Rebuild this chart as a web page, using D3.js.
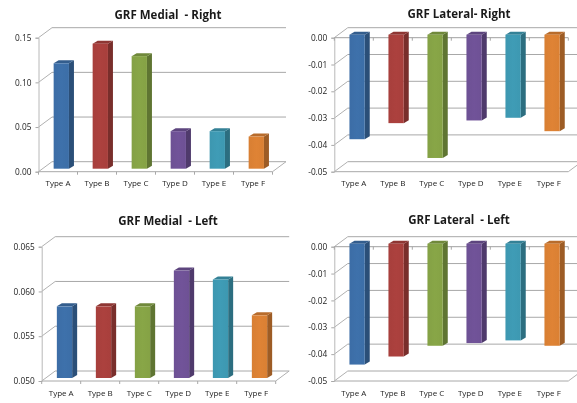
<!DOCTYPE html>
<html>
<head>
<meta charset="utf-8">
<script src="https://cdn.jsdelivr.net/npm/d3@7/dist/d3.min.js"></script>
<style>
    html, body { margin: 0; padding: 0; background: #fff; overflow: hidden; }
    svg { display: block; filter: blur(0.6px); }
    text { font-family: "Open Sans", "Noto Sans", sans-serif; fill: #333; }
</style>
</head>
<body>
<div id="chart"></div>
<script>
var categories = ["Type A", "Type B", "Type C", "Type D", "Type E", "Type F"];
var titles = ["GRF Medial  - Right", "GRF Lateral- Right", "GRF Medial  - Left", "GRF Lateral  - Left"];

var medialRight = [0.118, 0.14, 0.126, 0.042, 0.042, 0.036];
var lateralRight = [-0.039, -0.033, -0.046, -0.032, -0.031, -0.036];
var medialLeft = [0.058, 0.058, 0.058, 0.062, 0.061, 0.057];
var lateralLeft = [-0.045, -0.042, -0.038, -0.037, -0.036, -0.038];

var medialRightTicks = [0, 0.05, 0.1, 0.15];
var lateralTicks = [0, -0.01, -0.02, -0.03, -0.04, -0.05];
var medialLeftTicks = [0.05, 0.055, 0.06, 0.065];

var colors = ["#3d6fa9", "#aa403d", "#86a446", "#6f5297", "#3e9ab3", "#dc8134"];

var width = 577, height = 403;
var depth = {x: 13.5, y: -10};
var barDepth = {x: 5, y: -3};
var barWidth = 15.3;

var svg = d3.select('#chart').append('svg')
    .attr('width', width)
    .attr('height', height);

var defs = svg.append('defs');
colors.forEach(function (c, i) {
    var grad = defs.append('linearGradient').attr('id', 'face' + i);
    grad.append('stop').attr('offset', '0%').attr('stop-color', d3.color(c).darker(0.05));
    grad.append('stop').attr('offset', '50%').attr('stop-color', d3.color(c).brighter(0.04));
    grad.append('stop').attr('offset', '100%').attr('stop-color', d3.color(c).darker(0.03));
});

function drawPanel(opts) {
    var y = d3.scaleLinear().domain(opts.domain).range([opts.bottom, opts.top]);
    var x = d3.scaleBand().domain(categories).range([opts.left, opts.left + 234]);
    var g = svg.append('g');
    var baseValue = opts.negative ? 0 : opts.domain[0];
    var floorValue = opts.domain[0];

    // back wall grid + the slanted side wall lines
    g.selectAll('line.grid').data(opts.ticks).enter().append('line')
        .attr('class', 'grid')
        .attr('x1', opts.left + depth.x)
        .attr('x2', opts.left + 234 + depth.x)
        .attr('y1', function (d) { return y(d) + depth.y; })
        .attr('y2', function (d) { return y(d) + depth.y; })
        .attr('stroke', '#a8a8a8');
    g.selectAll('line.side').data(opts.ticks).enter().append('line')
        .attr('class', 'side')
        .attr('x1', opts.left)
        .attr('x2', opts.left + depth.x)
        .attr('y1', function (d) { return y(d); })
        .attr('y2', function (d) { return y(d) + depth.y; })
        .attr('stroke', '#b0b0b0');

    // floor front edge and right edge
    g.append('line')
        .attr('x1', opts.left).attr('x2', opts.left + 234)
        .attr('y1', y(floorValue)).attr('y2', y(floorValue))
        .attr('stroke', '#a8a8a8');
    g.append('line')
        .attr('x1', opts.left + 234).attr('x2', opts.left + 234 + depth.x)
        .attr('y1', y(floorValue)).attr('y2', y(floorValue) + depth.y)
        .attr('stroke', '#b0b0b0');

    var yAxis = d3.axisLeft(y)
        .tickValues(opts.ticks)
        .tickFormat(d3.format(opts.format))
        .tickSize(3)
        .tickPadding(4);
    var yG = g.append('g').attr('transform', 'translate(' + opts.left + ',0)').call(yAxis);
    yG.select('.domain').attr('stroke', '#b8b8b8');
    yG.selectAll('.tick line').attr('stroke', '#a8a8a8');
    yG.selectAll('text').style('font-size', '8.3px').style('fill', '#222')
        .text(function (d) { return d3.format(opts.format)(d).replace('\u2212', '-'); });

    var xAxis = d3.axisBottom(x).tickSize(0).tickPadding(0);
    var xG = g.append('g').attr('transform', 'translate(0,' + y(opts.domain[0]) + ')').call(xAxis);
    xG.select('.domain').remove();
    xG.selectAll('text').style('font-size', '8px').style('fill', '#222').attr('y', 9);

    // category separators on the zero axis
    g.selectAll('line.xtick').data(d3.range(7)).enter().append('line')
        .attr('class', 'xtick')
        .attr('x1', function (d) { return opts.left + d * x.bandwidth(); })
        .attr('x2', function (d) { return opts.left + d * x.bandwidth(); })
        .attr('y1', y(baseValue))
        .attr('y2', y(baseValue) + 3)
        .attr('stroke', '#a8a8a8');

    if (opts.negative) {
        g.append('line')
            .attr('x1', opts.left).attr('x2', opts.left + 234)
            .attr('y1', y(0)).attr('y2', y(0))
            .attr('stroke', '#a0a0a0');
    }

    var bars = g.selectAll('g.bar').data(opts.values).enter().append('g').attr('class', 'bar');

    bars.each(function (v, i) {
        var bar = d3.select(this);
        var c = colors[i];
        var x0 = x(categories[i]) + (x.bandwidth() - barWidth) / 2 + 3.3;
        var x1 = x0 + barWidth;
        var yTop = Math.min(y(v), y(baseValue)) + barDepth.y;
        var yBot = Math.max(y(v), y(baseValue)) + barDepth.y;
        // right side
        bar.append('path')
            .attr('d', 'M' + x1 + ',' + yTop + 'L' + (x1 + barDepth.x) + ',' + (yTop + barDepth.y)
                + 'L' + (x1 + barDepth.x) + ',' + (yBot + barDepth.y) + 'L' + x1 + ',' + yBot + 'Z')
            .attr('fill', d3.color(c).darker(0.95));
        // top
        bar.append('path')
            .attr('d', 'M' + x0 + ',' + yTop + 'L' + (x0 + barDepth.x) + ',' + (yTop + barDepth.y)
                + 'L' + (x1 + barDepth.x) + ',' + (yTop + barDepth.y) + 'L' + x1 + ',' + yTop + 'Z')
            .attr('fill', d3.color(c).darker(0.5));
        // front
        bar.append('rect')
            .attr('x', x0)
            .attr('y', yTop)
            .attr('width', barWidth)
            .attr('height', yBot - yTop)
            .attr('fill', 'url(#face' + i + ')');
    });

    g.append('text')
        .attr('x', opts.titleX)
        .attr('y', opts.titleY)
        .attr('text-anchor', 'middle')
        .style('font-size', '11.5px')
        .style('font-weight', 'bold')
        .style('white-space', 'pre')
        .style('fill', '#1a1a1a')
        .text(opts.title);
}

drawPanel({title: titles[0], titleX: 168, titleY: 19, values: medialRight, ticks: medialRightTicks,
    domain: [0, 0.15], format: '.2f', left: 38.5, top: 37.7, bottom: 171.7, negative: false});
drawPanel({title: titles[1], titleX: 459, titleY: 18, values: lateralRight, ticks: lateralTicks,
    domain: [-0.05, 0], format: '.2f', left: 334.3, top: 37.7, bottom: 171.7, negative: true});
drawPanel({title: titles[2], titleX: 168, titleY: 225, values: medialLeft, ticks: medialLeftTicks,
    domain: [0.05, 0.065], format: '.3f', left: 41.7, top: 246.7, bottom: 381, negative: false});
drawPanel({title: titles[3], titleX: 459, titleY: 224, values: lateralLeft, ticks: lateralTicks,
    domain: [-0.05, 0], format: '.2f', left: 334.3, top: 246.7, bottom: 381, negative: true});
</script>
</body>
</html>
